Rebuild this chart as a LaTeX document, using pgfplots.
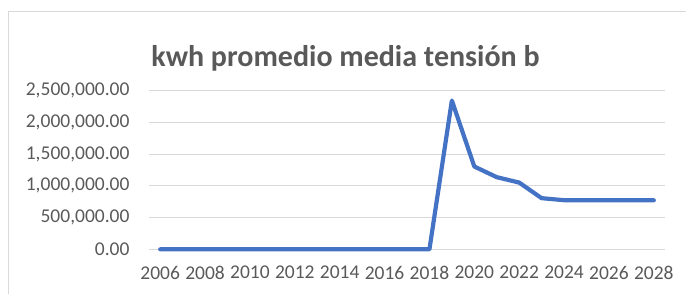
\documentclass[border=0pt]{standalone}
\usepackage{pgfplots}
\pgfplotsset{compat=1.18}
\usepackage{fontspec}
\setmainfont{Carlito}
\definecolor{txt}{HTML}{595959}
\definecolor{grd}{HTML}{D9D9D9}
\definecolor{ln}{HTML}{4472C4}
\begin{document}
\begin{tikzpicture}[x=1pt,y=1pt]
\path[use as bounding box] (0,0) rectangle (686,293);
\draw[grd, line width=0.8pt] (8,-5) -- (8,282) -- (700,282);
\node[text=txt, font=\fontsize{30}{34}\selectfont\bfseries, anchor=base] at (345.5,227) {kwh promedio media tensión b};
\begin{axis}[
  at={(149pt,43.7pt)}, anchor=south west,
  scale only axis, width=516pt, height=158.6pt,
  xmin=2005.5, xmax=2028.5, ymin=0, ymax=2500000,
  /pgf/number format/assume math mode=true,
  scaled ticks=false,
  xtick={2006,2008,...,2028},
  xticklabels={2006,2008,2010,2012,2014,2016,2018,2020,2022,2024,2026,2028},
  ytick={0,500000,1000000,1500000,2000000,2500000},
  yticklabels={{0.00},{500,000.00},{1,000,000.00},{1,500,000.00},{2,000,000.00},{2,500,000.00}},
  ymajorgrids, grid style={grd, line width=0.9pt},
  axis line style={draw=none},
  major tick length=0pt,
  tick label style={text=txt, font=\fontsize{19.5}{22}\selectfont},
  yticklabel style={xshift=-16pt},
  xticklabel style={yshift=-13pt},
  clip=false,
]
\addplot[ln, line width=4.2pt, line cap=round, line join=round] coordinates {
(2006,0)(2007,0)(2008,0)(2009,0)(2010,0)(2011,0)(2012,0)(2013,0)(2014,0)(2015,0)(2016,0)(2017,0)(2018,0)
(2019,2345000)(2020,1305000)(2021,1137000)(2022,1052000)(2023,806000)(2024,774000)(2025,773000)(2026,773000)(2027,773000)(2028,773000)
};
\end{axis}
\end{tikzpicture}
\end{document}
